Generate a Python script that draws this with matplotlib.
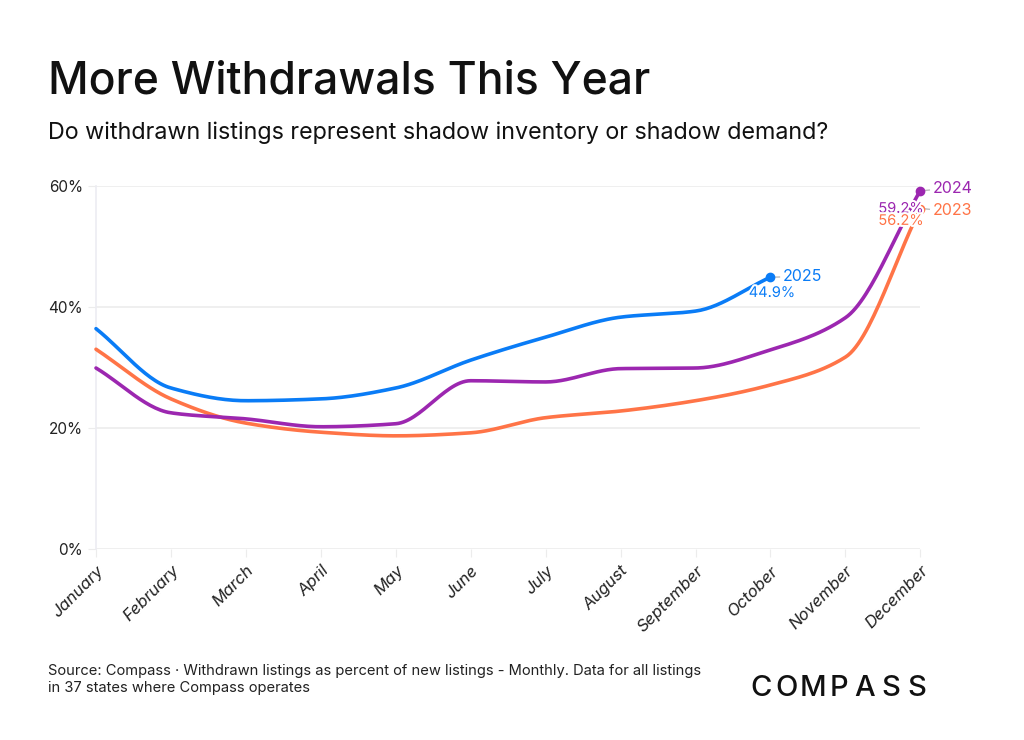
import numpy as np
import matplotlib.pyplot as plt
import matplotlib.patheffects as pe

months = ["January", "February", "March", "April", "May", "June", "July",
          "August", "September", "October", "November", "December"]

y2023 = [33.0, 24.8, 20.8, 19.3, 18.7, 19.2, 21.7, 22.8, 24.5, 27.1, 31.7, 56.2]
y2024 = [29.9, 22.5, 21.5, 20.2, 20.7, 27.8, 27.6, 29.8, 29.9, 32.9, 38.2, 59.2]
y2025 = [36.4, 26.6, 24.5, 24.8, 26.6, 31.2, 35.0, 38.3, 39.3, 44.9]

c2023 = "#ff7447"
c2024 = "#9c27b0"
c2025 = "#0a7cf6"

plt.rcParams['font.family'] = ['Inter', 'DejaVu Sans']


def monotone(x, y, n=30):
    # monotone cubic (Fritsch-Carlson), just for drawing smooth lines
    x = np.asarray(x, float)
    y = np.asarray(y, float)
    h = np.diff(x)
    d = np.diff(y) / h
    m = np.zeros_like(y)
    m[0], m[-1] = d[0], d[-1]
    for i in range(1, len(y) - 1):
        if d[i - 1] * d[i] <= 0:
            m[i] = 0
        else:
            m[i] = 2 / (1 / d[i - 1] + 1 / d[i])
    xs, ys = [], []
    for i in range(len(h)):
        t = np.linspace(0, 1, n)
        h00 = 2 * t**3 - 3 * t**2 + 1
        h10 = t**3 - 2 * t**2 + t
        h01 = -2 * t**3 + 3 * t**2
        h11 = t**3 - t**2
        xs.append(x[i] + t * h[i])
        ys.append(h00 * y[i] + h10 * h[i] * m[i] + h01 * y[i + 1] + h11 * h[i] * m[i + 1])
    return np.concatenate(xs), np.concatenate(ys)


fig = plt.figure(figsize=(10.24, 7.4), dpi=100)
ax = fig.add_axes([0.09375, 0.258, 0.805, 0.491])

for vals, col in [(y2023, c2023), (y2024, c2024), (y2025, c2025)]:
    xi = np.arange(len(vals))
    xs, ys = monotone(xi, vals)
    ax.plot(xs, ys, color=col, lw=2.6, solid_capstyle='round', zorder=3, clip_on=False)
    ax.plot(xi[-1], vals[-1], 'o', color=col, ms=6, zorder=4, clip_on=False)

halo = [pe.withStroke(linewidth=3, foreground='white')]

# end labels
def end_label(vals, label, col, dy_year, dx_val, dy_val):
    x = len(vals) - 1
    y = vals[-1]
    ax.plot([x + 0.05, x + 0.12], [y, y + dy_year * 0.3], color="#bbbbbb", lw=1, clip_on=False)
    ax.text(x + 0.17, y + dy_year, label, color=col, fontsize=11.5, va='center', ha='left')
    ax.text(x + dx_val, y + dy_val, f"{y}%", color=col, fontsize=10.5, va='center', ha='center',
            path_effects=halo, zorder=5)

end_label(y2025, "2025", c2025, 0.1, 0.02, -2.6)
end_label(y2024, "2024", c2024, 0.3, -0.26, -3.0)
end_label(y2023, "2023", c2023, -0.3, -0.26, -2.0)

ax.set_xlim(0, 11)
ax.set_ylim(0, 60)
ax.set_yticks([0, 20, 40, 60])
ax.set_yticklabels([f"{v}%" for v in [0, 20, 40, 60]])
ax.set_xticks(range(12))
ax.set_xticklabels(months, rotation=45, ha='right', rotation_mode='anchor', style='italic')
ax.grid(axis='y', color="#ececec", lw=1.2)
ax.set_axisbelow(True)
for s in ['top', 'right', 'bottom']:
    ax.spines[s].set_visible(False)
ax.spines['left'].set_color("#ececf2")
ax.spines['left'].set_linewidth(1.2)
ax.tick_params(axis='y', length=6, color="#ececec", labelsize=11, labelcolor="#222222")
ax.tick_params(axis='x', length=6, color="#ececec", labelsize=12, labelcolor="#222222", pad=4)

fig.text(0.047, 0.89, "More Withdrawals This Year", fontsize=32, fontweight='medium', color="#111111", va='center')
fig.text(0.047, 0.82, "Do withdrawn listings represent shadow inventory or shadow demand?", fontsize=16.8, color="#111111", va='center')
fig.text(0.047, 0.082, "Source: Compass \u00b7 Withdrawn listings as percent of new listings - Monthly. Data for all listings\nin 37 states where Compass operates",
         fontsize=10.6, color="#222222", va='center', linespacing=1.25)

# logo with spaced letters
for i, ch in enumerate("COMPASS"):
    fig.text(0.743 + i * 0.0254, 0.07, ch, fontsize=21, fontweight='medium', color="#111111", va='center', ha='center')

fig.savefig("out.png", dpi=100, facecolor='white')
